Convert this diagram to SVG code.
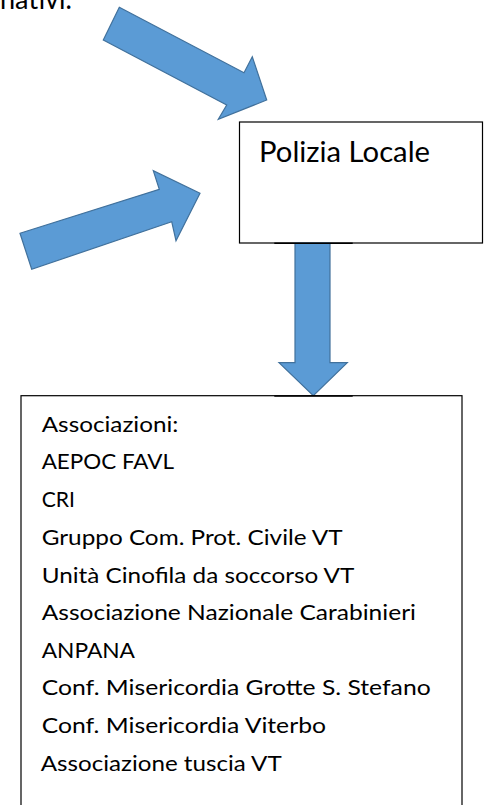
<svg xmlns="http://www.w3.org/2000/svg" width="489" height="805" viewBox="0 0 489 805">
<style>
.arrow{fill:#5B9BD5;stroke:#41719C;stroke-width:1.2;stroke-linejoin:miter}
.box{fill:#fff;stroke:#000;stroke-width:1.2}
.t{font-family:Lato,"Liberation Sans",sans-serif;fill:#000}
.list{font-size:22px}
.seg{stroke:#000;stroke-width:1.6}
</style>
<rect width="489" height="805" fill="#fff"/>
<text class="t" x="0" y="9" font-size="29" textLength="72" lengthAdjust="spacingAndGlyphs">nativi.</text>
<g id="connectors">
<polygon class="arrow" points="119.3,7.3 244,72.7 252.3,56.7 266.7,100 218.3,119.3 226.7,105 103.3,40"/>
<polygon class="arrow" points="20,233.3 159.3,189.3 153.3,170.7 200,193.3 176,240.7 171.7,221.7 31.7,269.3"/>
</g>
<g id="polizia">
<rect class="box" x="239.5" y="122" width="243" height="121"/>
<text class="t" x="259" y="162" font-size="29" textLength="171" lengthAdjust="spacingAndGlyphs">Polizia Locale</text>
</g>
<g id="connector-down">
<polygon class="arrow" points="295,243 330,243 330,362.7 347.3,362.7 313.3,395.7 279,362.7 295,362.7"/>
<line class="seg" x1="274.3" y1="243.3" x2="352.7" y2="243.3"/>
</g>
<g id="associazioni">
<rect class="box" x="21" y="395.7" width="441" height="420"/>
<line class="seg" x1="274.3" y1="396" x2="352.7" y2="396"/>
<g class="t list">
<text x="41.7" y="432" textLength="136.7" lengthAdjust="spacingAndGlyphs">Associazioni:</text>
<text x="41.7" y="469" textLength="132.3" lengthAdjust="spacingAndGlyphs">AEPOC FAVL</text>
<text x="41.7" y="507" textLength="33.3" lengthAdjust="spacingAndGlyphs">CRI</text>
<text x="41.7" y="545" textLength="301" lengthAdjust="spacingAndGlyphs">Gruppo Com. Prot. Civile VT</text>
<text x="41.7" y="582.5" textLength="312.7" lengthAdjust="spacingAndGlyphs">Unità Cinofila da soccorso VT</text>
<text x="41.7" y="620" textLength="374.3" lengthAdjust="spacingAndGlyphs">Associazione Nazionale Carabinieri</text>
<text x="41.7" y="657.5" textLength="93.3" lengthAdjust="spacingAndGlyphs">ANPANA</text>
<text x="41.7" y="695.3" textLength="389" lengthAdjust="spacingAndGlyphs">Conf. Misericordia Grotte S. Stefano</text>
<text x="41.7" y="733.3" textLength="284.3" lengthAdjust="spacingAndGlyphs">Conf. Misericordia Viterbo</text>
<text x="40.7" y="771" textLength="241" lengthAdjust="spacingAndGlyphs">Associazione tuscia VT</text>
</g>
</g>
</svg>
